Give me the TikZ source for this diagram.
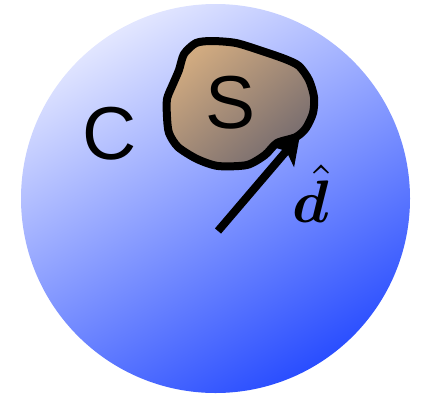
\documentclass[tikz,border=0pt]{standalone}
\usepackage{fontspec}
\usepackage{bm}
\newfontfamily\lsans{Liberation Sans}
\usetikzlibrary{arrows.meta}
\definecolor{circtop}{RGB}{226,230,255}
\definecolor{circbot}{RGB}{42,78,255}
\definecolor{blobtop}{RGB}{208,170,128}
\definecolor{blobbot}{RGB}{116,106,110}
\tikzset{
  biglabel/.style={inner sep=0pt, font=\lsans\fontsize{75}{75}\selectfont},
  outline/.style={line width=8pt, line join=round},
  vecarrow/.style={line width=8pt, -{Stealth[length=28pt,width=32pt,inset=7pt]}}
}
\begin{document}
\begin{tikzpicture}[x=1pt,y=-1pt]
\useasboundingbox (0,0) rectangle (427,394);
% domain C
\shade[top color=circtop, bottom color=circbot, shading angle=30]
  (215.5,198.5) circle (194.5pt);
% set S
\shade[draw, outline, top color=blobtop, bottom color=blobbot, shading angle=40]
  plot[smooth cycle, tension=0.45] coordinates {
    (184,54) (196,43) (212,41) (236,43) (262,51) (285,59) (299,66)
    (309,80) (314,97) (313,113) (306,128) (296,137) (277,143)
    (265,155) (247,165) (218,166) (197,159) (178,147) (169,133)
    (167,117) (167,99) (173,84) (179,70)};
\node[biglabel] (Clabel) at (110,133.5) {C};
\node[biglabel] (Slabel) at (230.5,102.5) {S};
\coordinate (atail) at (218,231);
\coordinate (atip) at (300,135);
\draw[vecarrow] (atail) -- (atip);
\node[anchor=base west, inner sep=0pt, scale=6] (dlabel) at (291,222) {$\hat{\bm{d}}$};
\end{tikzpicture}
\end{document}
